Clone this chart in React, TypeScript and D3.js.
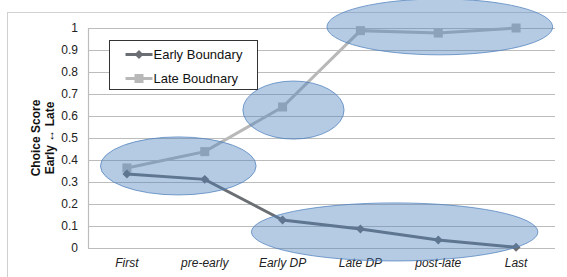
import { useEffect, useRef } from 'react'
import * as d3 from 'd3'

const categories = ['First', 'pre-early', 'Early DP', 'Late DP', 'post-late', 'Last']
const earlyBoundary = [0.336, 0.312, 0.127, 0.086, 0.036, 0.003]
const lateBoundary = [0.364, 0.438, 0.641, 0.988, 0.977, 1.0]
const yTicks = [0, 0.1, 0.2, 0.3, 0.4, 0.5, 0.6, 0.7, 0.8, 0.9, 1]

// highlight ellipses: center (category index, value), radii (bands, value)
const highlightIdx = [0.66, 2.14, 4.02, 3.44]
const highlightVal = [0.373, 0.627, 1.005, 0.073]
const highlightRx = [1.0, 0.65, 1.45, 1.84]
const highlightRy = [0.132, 0.132, 0.127, 0.132]

export default function App() {
  const svgRef = useRef<SVGSVGElement>(null)

  useEffect(() => {
    if (!svgRef.current) return
    const svg = d3.select(svgRef.current)
    svg.selectAll('*').remove()

    const width = 567
    const height = 277
    const margin = { top: 28, right: 12, bottom: 29, left: 88 }
    const chartWidth = width - margin.left - margin.right
    const chartHeight = height - margin.top - margin.bottom

    svg.attr('width', width).attr('height', height)

    // outer chart border
    svg.append('rect')
      .attr('x', 7.5).attr('y', 12.5)
      .attr('width', 700).attr('height', 400)
      .attr('fill', '#fff')
      .attr('stroke', '#d0d0d0')

    const g = svg.append('g')
      .attr('transform', `translate(${margin.left},${margin.top})`)

    const x = d3.scaleBand()
      .domain(categories)
      .range([0, chartWidth])
    const band = x.bandwidth()
    const xi = (i: number) => band / 2 + i * band

    const y = d3.scaleLinear().domain([0, 1]).range([chartHeight, 0])

    // gridlines
    g.selectAll('.grid')
      .data(yTicks)
      .enter()
      .append('line')
      .attr('x1', 0)
      .attr('x2', chartWidth)
      .attr('y1', d => Math.round(y(d)) + 0.5)
      .attr('y2', d => Math.round(y(d)) + 0.5)
      .attr('stroke', '#bcbcbc')
      .attr('stroke-width', 1.2)

    g.append('line')
      .attr('x1', 0.5).attr('x2', 0.5)
      .attr('y1', 0).attr('y2', chartHeight)
      .attr('stroke', '#bcbcbc')
      .attr('stroke-width', 1.2)

    // y tick labels
    g.selectAll('.ylab')
      .data(yTicks)
      .enter()
      .append('text')
      .attr('x', -10)
      .attr('y', d => y(d))
      .attr('dy', '0.35em')
      .attr('text-anchor', 'end')
      .style('font-family', 'Liberation Sans, Arial, sans-serif')
      .style('font-size', '12px')
      .style('fill', '#222')
      .text(d => String(d))

    // x labels
    g.selectAll('.xlab')
      .data(categories)
      .enter()
      .append('text')
      .attr('x', d => (x(d) || 0) + band / 2)
      .attr('y', chartHeight + 19)
      .attr('text-anchor', 'middle')
      .style('font-family', 'Liberation Sans, Arial, sans-serif')
      .style('font-size', '12px')
      .style('font-style', 'italic')
      .style('fill', '#222')
      .text(d => d)

    // Y Axis title
    const title = svg.append('text')
      .attr('transform', `translate(43,${margin.top + chartHeight / 2}) rotate(-90)`)
      .attr('text-anchor', 'middle')
      .style('font-family', 'Liberation Sans, Arial, sans-serif')
      .style('font-size', '12px')
      .style('font-weight', 'bold')
      .style('fill', '#111')
    title.append('tspan').attr('x', 0).attr('dy', '-0.25em').text('Choice Score')
    title.append('tspan').attr('x', 0).attr('dy', '1.2em').text('Early \u2194 Late')

    const line = d3.line<number>()
      .x((_, i) => xi(i))
      .y(d => y(d))

    // Late line
    g.append('path')
      .datum(lateBoundary)
      .attr('d', line)
      .attr('fill', 'none')
      .attr('stroke', '#b8b8b8')
      .attr('stroke-width', 3)
    g.selectAll('.lateMark')
      .data(lateBoundary)
      .enter()
      .append('rect')
      .attr('x', (_, i) => xi(i) - 4.5)
      .attr('y', d => y(d) - 4.5)
      .attr('width', 9)
      .attr('height', 9)
      .attr('fill', '#b8b8b8')

    // Early line
    g.append('path')
      .datum(earlyBoundary)
      .attr('d', line)
      .attr('fill', 'none')
      .attr('stroke', '#6b6e73')
      .attr('stroke-width', 3)
    const diamond = d3.symbol().type(d3.symbolSquare).size(40)
    g.selectAll('.earlyMark')
      .data(earlyBoundary)
      .enter()
      .append('path')
      .attr('d', diamond)
      .attr('transform', (d, i) => `translate(${xi(i)},${y(d)}) rotate(45)`)
      .attr('fill', '#6b6e73')

    // highlight ellipses
    g.selectAll('.hl')
      .data(highlightIdx)
      .enter()
      .append('ellipse')
      .attr('cx', (d) => xi(d))
      .attr('cy', (_, i) => y(highlightVal[i]))
      .attr('rx', (_, i) => highlightRx[i] * band)
      .attr('ry', (_, i) => y(0) - y(highlightRy[i]))
      .attr('fill', '#4f81bd')
      .attr('fill-opacity', 0.42)
      .attr('stroke', '#4f81bd')
      .attr('stroke-opacity', 0.75)
      .attr('stroke-width', 1)

    // Legend
    const legend = svg.append('g').attr('transform', 'translate(109.5,40.5)')
    legend.append('rect')
      .attr('width', 148).attr('height', 49)
      .attr('fill', '#fff')
      .attr('stroke', '#333')
      .attr('stroke-width', 1)
    const items = [
      { name: 'Early Boundary', color: '#6b6e73', shape: 'diamond' },
      { name: 'Late Boudnary', color: '#b8b8b8', shape: 'square' },
    ]
    items.forEach((it, i) => {
      const ly = 14 + i * 24
      legend.append('line')
        .attr('x1', 16).attr('x2', 43)
        .attr('y1', ly).attr('y2', ly)
        .attr('stroke', it.color)
        .attr('stroke-width', 3)
      if (it.shape === 'diamond') {
        legend.append('path')
          .attr('d', diamond)
          .attr('transform', `translate(29.5,${ly}) rotate(45)`)
          .attr('fill', it.color)
      } else {
        legend.append('rect')
          .attr('x', 25).attr('y', ly - 4.5)
          .attr('width', 9).attr('height', 9)
          .attr('fill', it.color)
      }
      legend.append('text')
        .attr('x', 44)
        .attr('y', ly)
        .attr('dy', '0.36em')
        .style('font-family', 'Liberation Sans, Arial, sans-serif')
        .style('font-size', '13px')
        .style('fill', '#111')
        .text(it.name)
    })
  }, [])

  return (
    <svg ref={svgRef} style={{ position: 'absolute', left: 0, top: 0 }} />
  )
}
